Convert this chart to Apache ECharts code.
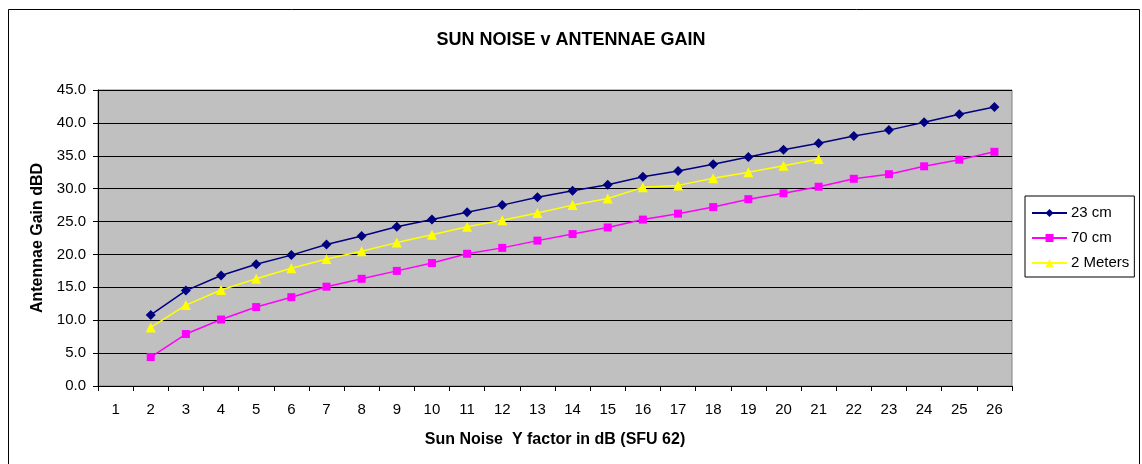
<!DOCTYPE html>
<html>
<head>
<meta charset="utf-8">
<script src="https://cdn.jsdelivr.net/npm/echarts@6/dist/echarts.min.js"></script>
<style>
  html, body { margin: 0; padding: 0; background: #fff; }
  #main { width: 1142px; height: 464px; }
</style>
</head>
<body>
<div id="main"></div>
<script>
// sun noise Y factor (dB) categories
var categories = ['1','2','3','4','5','6','7','8','9','10','11','12','13','14','15','16','17','18','19','20','21','22','23','24','25','26'];
var cm23 = [null, 10.8, 14.5, 16.8, 18.5, 19.9, 21.5, 22.8, 24.2, 25.3, 26.4, 27.5, 28.7, 29.7, 30.6, 31.8, 32.7, 33.7, 34.8, 35.9, 36.9, 38.0, 38.9, 40.1, 41.3, 42.4];
var cm70 = [null, 4.4, 7.9, 10.1, 12.0, 13.5, 15.1, 16.3, 17.5, 18.7, 20.1, 21.0, 22.1, 23.1, 24.1, 25.3, 26.2, 27.2, 28.4, 29.3, 30.3, 31.5, 32.2, 33.4, 34.4, 35.6];
var m2 = [null, 8.9, 12.3, 14.6, 16.3, 17.9, 19.3, 20.5, 21.8, 23.0, 24.2, 25.2, 26.3, 27.5, 28.5, 30.2, 30.5, 31.6, 32.5, 33.5, 34.5];

var font = 'Liberation Sans, Arial, sans-serif';
var myChart = echarts.init(document.getElementById('main'));

function lineSeries(name, data, color, symbol, size) {
  return {
    name: name,
    type: 'line',
    data: data,
    symbol: symbol,
    symbolSize: size,
    connectNulls: false,
    lineStyle: { color: color, width: 1.5 },
    itemStyle: { color: color },
    emphasis: { disabled: true },
    animation: false
  };
}

var option = {
  animation: false,
  textStyle: { fontFamily: font },
  graphic: [
    {
      type: 'rect',
      shape: { x: 8.5, y: 9.5, width: 1131, height: 470 },
      style: { fill: 'none', stroke: '#000', lineWidth: 1 },
      silent: true
    }
  ],
  title: {
    text: 'SUN NOISE v ANTENNAE GAIN',
    left: 'center',
    top: 26,
    textStyle: { fontSize: 18, fontWeight: 'bold', color: '#000', fontFamily: font }
  },
  legend: {
    orient: 'vertical',
    left: 1025,
    top: 196,
    padding: [9, 5, 6, 6],
    itemGap: 9,
    itemWidth: 35,
    itemHeight: 10,
    backgroundColor: '#fff',
    borderColor: '#000',
    borderWidth: 1,
    textStyle: { fontSize: 15, lineHeight: 16, color: '#000', fontFamily: font, padding: [0, 0, 0, -1] },
    data: ['23 cm', '70 cm', '2 Meters']
  },
  grid: {
    left: 98,
    right: 130,
    top: 90,
    bottom: 78,
    show: true,
    backgroundColor: '#c0c0c0',
    borderColor: '#808080',
    borderWidth: 1
  },
  xAxis: {
    type: 'category',
    data: categories,
    boundaryGap: true,
    name: 'Sun Noise  Y factor in dB (SFU 62)',
    nameLocation: 'middle',
    nameGap: 46,
    nameTextStyle: { fontSize: 16, fontWeight: 'bold', color: '#000', fontFamily: font },
    axisLine: { lineStyle: { color: '#000', width: 1 } },
    axisTick: { show: true, alignWithLabel: false, length: 5, lineStyle: { color: '#000' } },
    axisLabel: { fontSize: 15, color: '#000', margin: 16, fontFamily: font },
    splitLine: { show: false }
  },
  yAxis: {
    type: 'value',
    min: 0,
    max: 45,
    interval: 5,
    name: 'Antennae Gain dBD',
    nameLocation: 'middle',
    nameGap: 51,
    nameTextStyle: { fontSize: 16, fontWeight: 'bold', color: '#000', fontFamily: font },
    axisLine: { show: true, lineStyle: { color: '#000', width: 1 } },
    axisTick: { show: true, length: 5, lineStyle: { color: '#000' } },
    axisLabel: {
      fontSize: 15, color: '#000', margin: 12, fontFamily: font,
      formatter: function (v) { return v.toFixed(1); }
    },
    splitLine: { show: true, lineStyle: { color: '#000', width: 1 } }
  },
  series: [
    lineSeries('23 cm', cm23, '#000080', 'diamond', 10),
    lineSeries('70 cm', cm70, '#ff00ff', 'rect', 8),
    lineSeries('2 Meters', m2, '#ffff00', 'triangle', 10)
  ]
};

myChart.setOption(option);
</script>
</body>
</html>
